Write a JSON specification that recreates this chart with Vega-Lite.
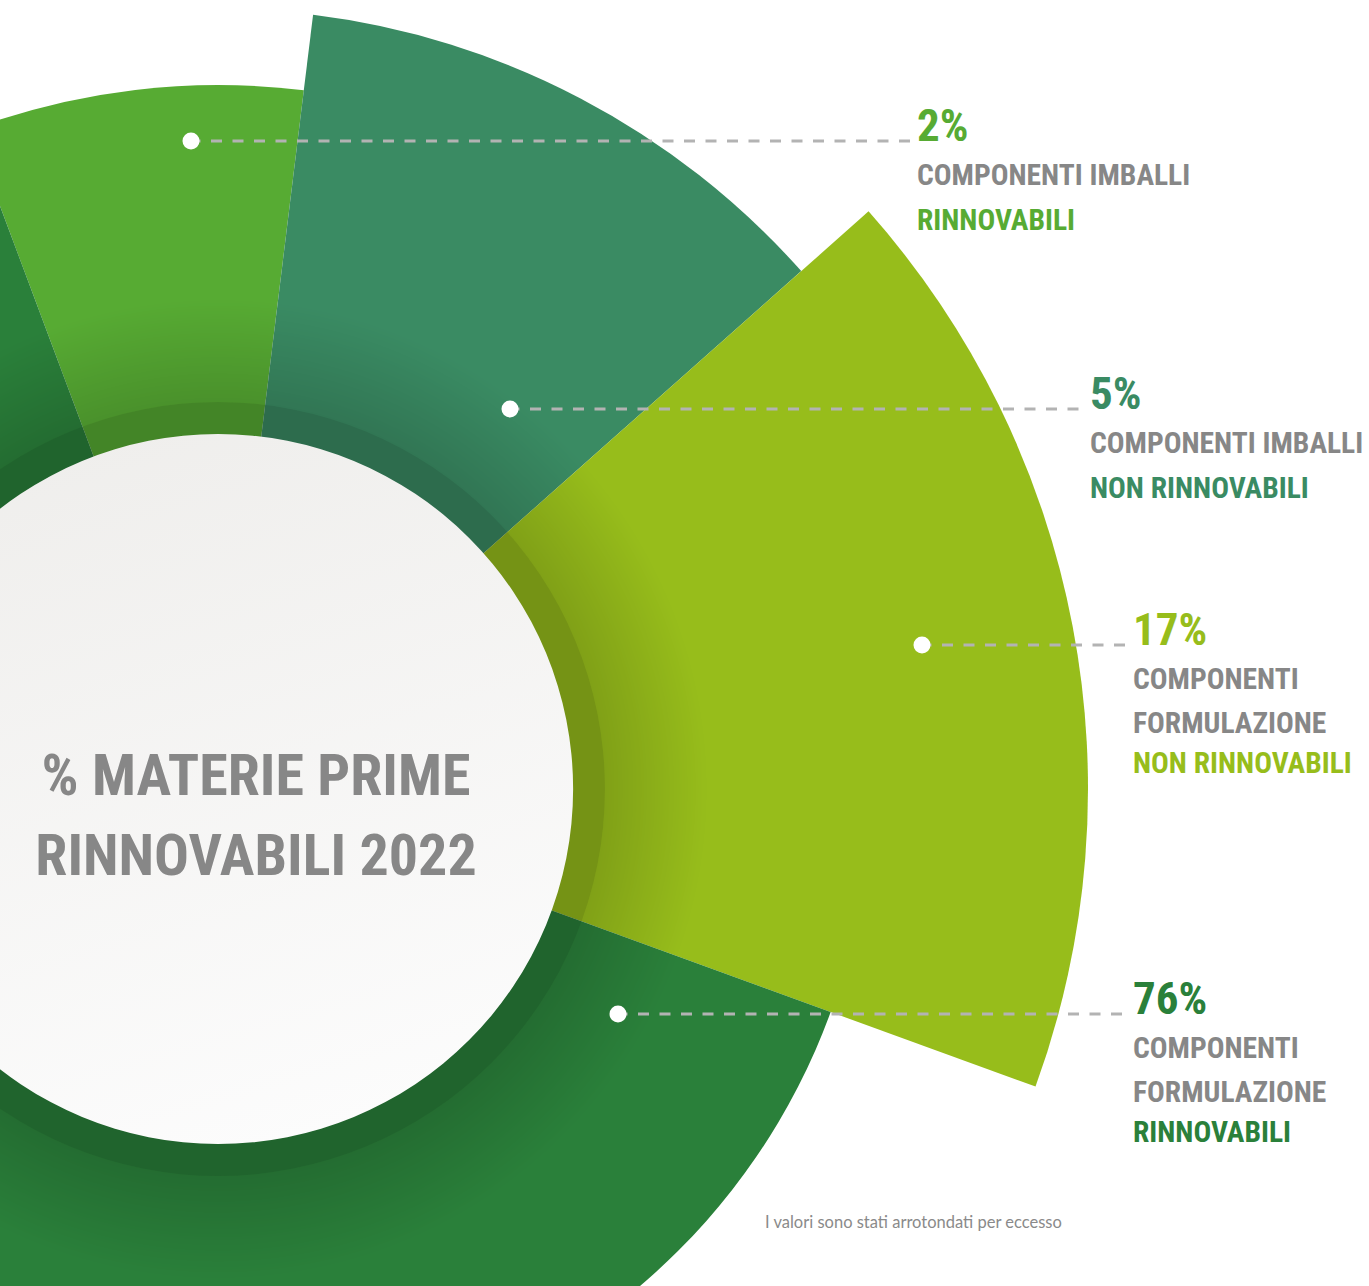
{
  "$schema": "https://vega.github.io/schema/vega-lite/v6.json",
  "width": 1369,
  "height": 1286,
  "autosize": {"type": "none"},
  "padding": 0,
  "background": "#ffffff",
  "view": {"stroke": null},
  "datasets": {
    "segments": [
      {"cat": "Componenti imballi rinnovabili", "value": 2},
      {"cat": "Componenti imballi non rinnovabili", "value": 5},
      {"cat": "Componenti formulazione non rinnovabili", "value": 17},
      {"cat": "Componenti formulazione rinnovabili", "value": 76}
    ],
    "callouts": [
      {"cat": "Componenti imballi rinnovabili", "value": 2, "pct": "2%", "desc": ["COMPONENTI IMBALLI"], "kind": "RINNOVABILI", "lines": 1, "x_dot": -27, "y_dot": 648, "x_label": 694},
      {"cat": "Componenti imballi non rinnovabili", "value": 5, "pct": "5%", "desc": ["COMPONENTI IMBALLI"], "kind": "NON RINNOVABILI", "lines": 1, "x_dot": 292, "y_dot": 380, "x_label": 867},
      {"cat": "Componenti formulazione non rinnovabili", "value": 17, "pct": "17%", "desc": ["COMPONENTI", "FORMULAZIONE"], "kind": "NON RINNOVABILI", "lines": 2, "x_dot": 704, "y_dot": 144, "x_label": 910},
      {"cat": "Componenti formulazione rinnovabili", "value": 76, "pct": "76%", "desc": ["COMPONENTI", "FORMULAZIONE"], "kind": "RINNOVABILI", "lines": 2, "x_dot": 400, "y_dot": -225, "x_label": 910}
    ]
  },
  "layer": [
    {
      "data": {"name": "segments"},
      "mark": {"type": "arc"},
      "encoding": {
        "x": {"datum": 0, "type": "quantitative", "scale": {"type": "linear", "domain": [-218, 1151], "nice": false, "zero": false}, "axis": null},
        "y": {"datum": 0, "type": "quantitative", "scale": {"type": "linear", "domain": [-497, 789], "nice": false, "zero": false}, "axis": null},
        "theta": {"field": "value", "type": "quantitative", "stack": true, "scale": {"type": "linear", "domain": [0, 2, 7, 24, 100], "range": [-0.3578, 0.1222, 0.8447, 1.9199, 5.9254], "zero": false, "nice": false}},
        "radius": {"field": "value", "type": "quantitative", "scale": {"type": "linear", "domain": [0, 2, 5, 17, 76], "range": [0, 704, 780, 870, 652], "zero": false, "nice": false}},
        "color": {"field": "cat", "type": "nominal", "scale": {"domain": ["Componenti imballi rinnovabili", "Componenti imballi non rinnovabili", "Componenti formulazione non rinnovabili", "Componenti formulazione rinnovabili"], "range": ["#57ab33", "#3a8b63", "#97bd1b", "#2a803a"]}, "legend": null},
        "order": {"field": "value", "type": "quantitative", "sort": "ascending"}
      }
    },
    {
      "data": {"values": [{}]},
      "mark": {"type": "arc", "radius": 490, "radius2": 387, "theta": 0, "theta2": 6.2832,
        "fill": {"gradient": "radial", "x1": 0.5, "y1": 0.5, "r1": 0, "x2": 0.5, "y2": 0.5, "r2": 0.5,
          "stops": [{"offset": 0, "color": "rgba(0,0,0,0.15)"}, {"offset": 0.79, "color": "rgba(0,0,0,0.15)"}, {"offset": 1, "color": "rgba(0,0,0,0)"}]}},
      "encoding": {
        "x": {"datum": 0, "type": "quantitative", "scale": {"type": "linear", "domain": [-218, 1151], "nice": false, "zero": false}, "axis": null},
        "y": {"datum": 0, "type": "quantitative", "scale": {"type": "linear", "domain": [-497, 789], "nice": false, "zero": false}, "axis": null}
      }
    },
    {
      "data": {"values": [{}]},
      "mark": {"type": "arc", "radius": 387, "radius2": 354, "theta": 0, "theta2": 6.2832, "fill": "#000000", "fillOpacity": 0.22},
      "encoding": {
        "x": {"datum": 0, "type": "quantitative", "scale": {"type": "linear", "domain": [-218, 1151], "nice": false, "zero": false}, "axis": null},
        "y": {"datum": 0, "type": "quantitative", "scale": {"type": "linear", "domain": [-497, 789], "nice": false, "zero": false}, "axis": null}
      }
    },
    {
      "data": {"values": [{}]},
      "mark": {"type": "arc", "radius": 355, "theta": 0, "theta2": 6.2832,
        "fill": {"gradient": "linear", "x1": 0.3, "y1": 0, "x2": 0.6, "y2": 1,
          "stops": [{"offset": 0, "color": "#efeeec"}, {"offset": 1, "color": "#fcfcfc"}]}},
      "encoding": {
        "x": {"datum": 0, "type": "quantitative", "scale": {"type": "linear", "domain": [-218, 1151], "nice": false, "zero": false}, "axis": null},
        "y": {"datum": 0, "type": "quantitative", "scale": {"type": "linear", "domain": [-497, 789], "nice": false, "zero": false}, "axis": null}
      }
    },
    {
      "data": {"name": "callouts"},
      "mark": {"type": "rule", "color": "#b3b3b3", "strokeWidth": 3, "strokeDash": [11, 10.5], "strokeDashOffset": 1.5},
      "encoding": {
        "x": {"field": "x_dot", "type": "quantitative", "scale": {"type": "linear", "domain": [-218, 1151], "nice": false, "zero": false}, "axis": null},
        "x2": {"field": "x_label"},
        "y": {"field": "y_dot", "type": "quantitative", "scale": {"type": "linear", "domain": [-497, 789], "nice": false, "zero": false}, "axis": null}
      }
    },
    {
      "data": {"name": "callouts"},
      "mark": {"type": "point", "filled": true, "fill": "#ffffff", "opacity": 1, "size": 290, "strokeWidth": 0},
      "encoding": {
        "x": {"field": "x_dot", "type": "quantitative", "scale": {"type": "linear", "domain": [-218, 1151], "nice": false, "zero": false}, "axis": null},
        "y": {"field": "y_dot", "type": "quantitative", "scale": {"type": "linear", "domain": [-497, 789], "nice": false, "zero": false}, "axis": null}
      }
    },
    {
      "data": {"name": "callouts"},
      "mark": {"type": "text", "align": "left", "baseline": "alphabetic", "dx": 5, "font": "Roboto Condensed, Liberation Sans Narrow, DejaVu Sans Condensed, sans-serif", "fontWeight": "bold", "fontSize": 45},
      "encoding": {
        "x": {"field": "x_label", "type": "quantitative", "scale": {"type": "linear", "domain": [-218, 1151], "nice": false, "zero": false}, "axis": null},
        "y": {"field": "y_dot", "type": "quantitative", "scale": {"type": "linear", "domain": [-497, 789], "nice": false, "zero": false}, "axis": null},
        "text": {"field": "pct"},
        "color": {"field": "cat", "type": "nominal", "legend": null}
      }
    },
    {
      "data": {"name": "callouts"},
      "mark": {"type": "text", "align": "left", "baseline": "alphabetic", "dx": 5, "dy": 44, "lineHeight": 44, "font": "Roboto Condensed, Liberation Sans Narrow, DejaVu Sans Condensed, sans-serif", "fontWeight": "bold", "fontSize": 29.5, "color": "#878787"},
      "encoding": {
        "x": {"field": "x_label", "type": "quantitative", "scale": {"type": "linear", "domain": [-218, 1151], "nice": false, "zero": false}, "axis": null},
        "y": {"field": "y_dot", "type": "quantitative", "scale": {"type": "linear", "domain": [-497, 789], "nice": false, "zero": false}, "axis": null},
        "text": {"field": "desc"}
      }
    },
    {
      "data": {"name": "callouts"},
      "transform": [{"filter": "datum.lines == 1"}],
      "mark": {"type": "text", "align": "left", "baseline": "alphabetic", "dx": 5, "dy": 89, "font": "Roboto Condensed, Liberation Sans Narrow, DejaVu Sans Condensed, sans-serif", "fontWeight": "bold", "fontSize": 29.5},
      "encoding": {
        "x": {"field": "x_label", "type": "quantitative", "scale": {"type": "linear", "domain": [-218, 1151], "nice": false, "zero": false}, "axis": null},
        "y": {"field": "y_dot", "type": "quantitative", "scale": {"type": "linear", "domain": [-497, 789], "nice": false, "zero": false}, "axis": null},
        "text": {"field": "kind"},
        "color": {"field": "cat", "type": "nominal", "legend": null}
      }
    },
    {
      "data": {"name": "callouts"},
      "transform": [{"filter": "datum.lines == 2"}],
      "mark": {"type": "text", "align": "left", "baseline": "alphabetic", "dx": 5, "dy": 128, "font": "Roboto Condensed, Liberation Sans Narrow, DejaVu Sans Condensed, sans-serif", "fontWeight": "bold", "fontSize": 29.5},
      "encoding": {
        "x": {"field": "x_label", "type": "quantitative", "scale": {"type": "linear", "domain": [-218, 1151], "nice": false, "zero": false}, "axis": null},
        "y": {"field": "y_dot", "type": "quantitative", "scale": {"type": "linear", "domain": [-497, 789], "nice": false, "zero": false}, "axis": null},
        "text": {"field": "kind"},
        "color": {"field": "cat", "type": "nominal", "legend": null}
      }
    },
    {
      "data": {"values": [{"t": ["% MATERIE PRIME", "RINNOVABILI 2022"]}]},
      "mark": {"type": "text", "align": "center", "baseline": "alphabetic", "lineHeight": 80, "font": "Roboto Condensed, Liberation Sans Narrow, DejaVu Sans Condensed, sans-serif", "fontWeight": "bold", "fontSize": 58, "color": "#878787"},
      "encoding": {
        "x": {"datum": 38, "type": "quantitative", "scale": {"type": "linear", "domain": [-218, 1151], "nice": false, "zero": false}, "axis": null},
        "y": {"datum": -6, "type": "quantitative", "scale": {"type": "linear", "domain": [-497, 789], "nice": false, "zero": false}, "axis": null},
        "text": {"field": "t"}
      }
    },
    {
      "data": {"values": [{"t": "I valori sono stati arrotondati per eccesso"}]},
      "mark": {"type": "text", "align": "left", "baseline": "alphabetic", "font": "Lato, Open Sans, sans-serif", "fontSize": 16.5, "color": "#8a8a8a"},
      "encoding": {
        "x": {"datum": 547, "type": "quantitative", "scale": {"type": "linear", "domain": [-218, 1151], "nice": false, "zero": false}, "axis": null},
        "y": {"datum": -439, "type": "quantitative", "scale": {"type": "linear", "domain": [-497, 789], "nice": false, "zero": false}, "axis": null},
        "text": {"field": "t"}
      }
    }
  ]
}
